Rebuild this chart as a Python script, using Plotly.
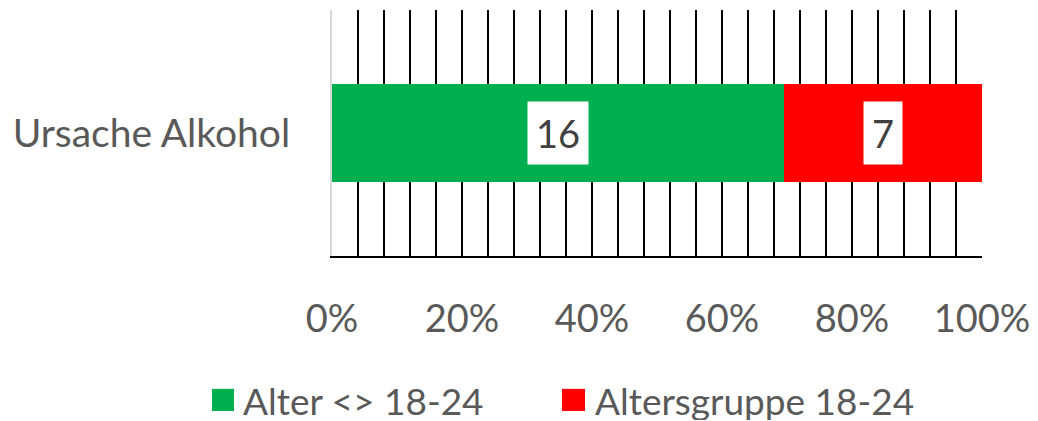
import plotly.graph_objects as go

category = ["Ursache Alkohol"]
series_names = ["Alter <> 18-24", "Altersgruppe 18-24"]
values_other = [16]
values_1824 = [7]
colors = ["#00B050", "#FF0000"]
tick_vals = [0, 0.2, 0.4, 0.6, 0.8, 1.0]
tick_text = ["0%", "20%", "40%", "60%", "80%", "100%"]

FONT = "Lato"
GREY = "#595959"

fig = go.Figure()
for name, vals, col in zip(series_names, [values_other, values_1824], colors):
    fig.add_trace(go.Bar(y=category, x=vals, name=name, orientation="h",
                         marker=dict(color=col, line=dict(width=0)),
                         width=0.4, showlegend=False))

# white value boxes in the middle of each segment
total = values_other[0] + values_1824[0]
start = 0
for vals in [values_other, values_1824]:
    mid = (start + vals[0] / 2) / total
    fig.add_annotation(x=mid, y=category[0], text=str(vals[0]), showarrow=False,
                       bgcolor="white", borderpad=8,
                       font=dict(family=FONT, size=38, color="#404040"))
    start += vals[0]

# legend drawn by hand so the colour squares are as big as in the original
legend_pos = [(-0.1846, -0.1508, -0.1385), (0.3538, 0.3892, 0.4031)]
for name, col, (x0, x1, xt) in zip(series_names, colors, legend_pos):
    fig.add_shape(type="rect", xref="paper", yref="paper",
                  x0=x0, x1=x1, y0=-0.540, y1=-0.630,
                  fillcolor=col, line=dict(width=0))
    fig.add_annotation(xref="paper", yref="paper", x=xt, y=-0.585,
                       xanchor="left", yanchor="middle", text=name, showarrow=False,
                       height=40, borderpad=0,
                       font=dict(family=FONT, size=37, color=GREY))

# the page body has an 8px margin, so the figure is 8px smaller and shifted
fig.update_layout(
    barmode="stack", barnorm="fraction",
    width=1030, height=413,
    margin=dict(l=324, r=56, t=2, b=165),
    plot_bgcolor="white", paper_bgcolor="white",
    font=dict(family=FONT, size=38, color=GREY),
    showlegend=False,
    xaxis=dict(range=[0, 1], tickvals=tick_vals, ticktext=tick_text,
               showgrid=True, gridcolor="black", gridwidth=2,
               minor=dict(dtick=0.04, showgrid=True, gridcolor="black", gridwidth=2),
               showline=True, linecolor="black", linewidth=2, zeroline=False,
               ticklabelstandoff=28, automargin=False, fixedrange=True),
    yaxis=dict(showline=True, linecolor="#D9D9D9", linewidth=2,
               tickfont=dict(size=39),
               ticklabelstandoff=32, automargin=False, fixedrange=True),
)

fig.write_html("out.html")
